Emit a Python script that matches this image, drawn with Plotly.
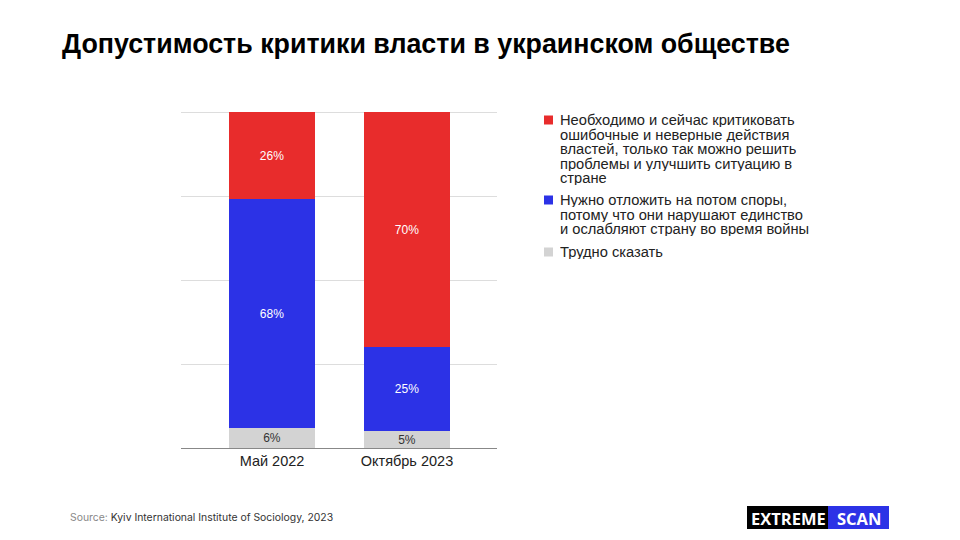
import plotly.graph_objects as go

categories = ["Май 2022", "Октябрь 2023"]
critic = [26, 70]
postpone = [68, 25]
hard = [6, 5]
legend_lines = [
    ["Необходимо и сейчас критиковать", "ошибочные и неверные действия",
     "властей, только так можно решить", "проблемы и улучшить ситуацию в", "стране"],
    ["Нужно отложить на потом споры,", "потому что они нарушают единство",
     "и ослабляют страну во время войны"],
    ["Трудно сказать"],
]
colors = ["#E82C2C", "#2C32E6", "#D3D3D3"]
title = "Допустимость критики власти в украинском обществе"

FONT = "Arial, Liberation Sans, sans-serif"
L, T, W, H = 181, 111, 316, 337  # plot area in px


def px(x):
    return (x - L) / W


def py(y):
    return 1 - (y - T) / H


xpos = list(range(len(categories)))
fig = go.Figure()
series = [(hard, 2, "#333333"), (postpone, 1, "white"), (critic, 0, "white")]
for vals, idx, tcol in series:
    fig.add_trace(go.Bar(
        x=xpos, y=vals, name=" ".join(legend_lines[idx]), width=0.644,
        marker=dict(color=colors[idx], line=dict(width=0)),
        text=[f"{v}%" for v in vals], textposition="inside",
        insidetextanchor="middle", textangle=0, constraintext="none",
        textfont=dict(color=tcol, size=12, family=FONT),
        hoverinfo="skip",
    ))

fig.update_layout(
    barmode="stack",
    width=960, height=540,
    margin=dict(l=L, r=960 - L - W, t=T, b=540 - T - H),
    plot_bgcolor="white", paper_bgcolor="white",
    showlegend=False,
)
fig.update_xaxes(
    tickmode="array", tickvals=xpos, ticktext=categories,
    range=[-0.674, 1.667], showgrid=False, zeroline=False,
    showline=True, linecolor="#888888", linewidth=1,
    ticks="", tickfont=dict(size=14.5, color="#222222", family=FONT),
)
fig.update_yaxes(
    range=[0, 100.3], tick0=0, dtick=25, showticklabels=False,
    showgrid=True, gridcolor="#DDDDDD", gridwidth=1, zeroline=False,
)

# legend (drawn manually for tight line spacing)
item_tops = [120, 200, 252]
line_h = 14.6
for idx, lines in enumerate(legend_lines):
    y0 = item_tops[idx]
    fig.add_shape(type="rect", xref="paper", yref="paper",
                  x0=px(544), x1=px(553), y0=py(y0 + 4.5), y1=py(y0 - 4.5),
                  fillcolor=colors[idx], line=dict(width=0))
    for j, ln in enumerate(lines):
        fig.add_annotation(text=ln, xref="paper", yref="paper",
                           x=px(559), y=py(y0 + j * line_h), xanchor="left", yanchor="middle",
                           showarrow=False, height=14, borderpad=0,
                           font=dict(size=14.7, color="#222222", family=FONT))

fig.add_annotation(
    text=f"<b>{title}</b>", xref="paper", yref="paper",
    x=px(60), y=py(44), xanchor="left", yanchor="middle",
    showarrow=False, font=dict(size=26.8, color="black", family=FONT),
)
fig.add_annotation(
    text="<span style='color:#888888'>Source: </span>Kyiv International Institute of Sociology, 2023",
    xref="paper", yref="paper", x=px(68), y=py(517),
    xanchor="left", yanchor="middle", showarrow=False,
    font=dict(size=10.4, color="#333333", family="Inter, Arial, sans-serif"),
)
# logo
fig.add_shape(type="rect", xref="paper", yref="paper",
              x0=px(747), x1=px(828), y0=py(529), y1=py(506),
              fillcolor="black", line=dict(width=0))
fig.add_shape(type="rect", xref="paper", yref="paper",
              x0=px(828), x1=px(889), y0=py(529), y1=py(506),
              fillcolor="#2C32E6", line=dict(width=0))
fig.add_annotation(text="<b>EXTREME</b>", xref="paper", yref="paper",
                   x=px(788), y=py(518), showarrow=False,
                   xanchor="center", yanchor="middle",
                   font=dict(size=16.5, color="white", family="Open Sans, Arial, sans-serif"))
fig.add_annotation(text="<b>SCAN</b>", xref="paper", yref="paper",
                   x=px(859), y=py(518), showarrow=False,
                   xanchor="center", yanchor="middle",
                   font=dict(size=16.5, color="white", family="Open Sans, Arial, sans-serif"))

fig.write_html("out.html")
